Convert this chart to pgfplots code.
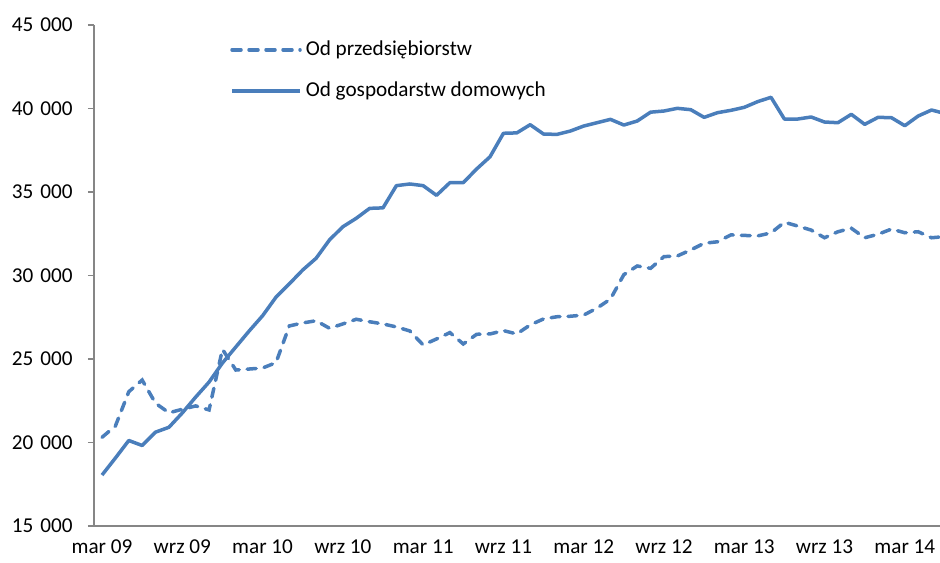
\documentclass[border=0pt]{standalone}
\usepackage{pgfplots}
\pgfplotsset{compat=1.18}
\usepackage{pgfplotstable}
\usepackage{fontspec}
\setmainfont{Carlito}
\definecolor{lineblue}{RGB}{74,126,187}
\definecolor{axisgray}{RGB}{134,134,134}

\pgfplotstableread{
i p h
0 20310 18050
1 20990 19070
2 23040 20120
3 23740 19820
4 22350 20620
5 21780 20910
6 21990 21770
7 22190 22720
8 21950 23620
9 25580 24760
10 24340 25720
11 24400 26680
12 24460 27590
13 24780 28700
14 26980 29500
15 27160 30330
16 27290 31030
17 26840 32130
18 27100 32920
19 27380 33425
20 27230 34020
21 27100 34050
22 26920 35380
23 26680 35480
24 25840 35380
25 26200 34800
26 26580 35560
27 25900 35560
28 26480 36380
29 26500 37110
30 26700 38515
31 26500 38540
32 27040 39030
33 27400 38470
34 27530 38450
35 27560 38650
36 27630 38950
37 28050 39150
38 28590 39350
39 30050 39010
40 30570 39250
41 30430 39780
42 31130 39850
43 31170 40010
44 31530 39930
45 31930 39470
46 32020 39750
47 32430 39890
48 32400 40070
49 32370 40410
50 32550 40670
51 33190 39370
52 32960 39370
53 32720 39490
54 32260 39190
55 32620 39150
56 32830 39650
57 32260 39050
58 32470 39470
59 32780 39450
60 32560 38970
61 32620 39550
62 32260 39910
63 32330 39700
}\datatable

\newcommand{\ts}{\hspace{0.33em}}

\begin{document}
\fontsize{10.6}{13}\selectfont
\begin{tikzpicture}
\begin{axis}[
  name=ax,
  scale only axis,
  width=423pt, height=250.5pt,
  xmin=-0.6, xmax=62.63,
  ymin=15000, ymax=45000,
  scaled y ticks=false,
  axis x line=bottom, axis y line=left,
  axis line style={draw=axisgray, line width=0.75pt, -},
  xtick={0,6,...,60},
  xticklabels={mar 09,wrz 09,mar 10,wrz 10,mar 11,wrz 11,mar 12,wrz 12,mar 13,wrz 13,mar 14},
  x tick style={draw=none},
  ytick={15000,20000,...,45000},
  yticklabels={15\ts000,20\ts000,25\ts000,30\ts000,35\ts000,40\ts000,45\ts000},
  y tick style={draw=axisgray, line width=0.75pt},
  yticklabel style={xshift=-4pt},
  tick align=outside,
  major tick length=3pt,
  legend style={at={(rel axis cs:0.1535,0.985)}, anchor=north west, draw=none, fill=none,
    row sep=7.5pt, font=\fontsize{10.6}{13}\selectfont},
  legend image code/.code={\draw[#1] (0pt,0pt) -- (34pt,0pt);},
  legend cell align=left,
]
\addplot[lineblue, line width=1.75pt, dash pattern=on 4.5pt off 4pt, line cap=round] table[x=i, y=p] {\datatable};
\addlegendentry{Od przedsiębiorstw}
\addplot[lineblue, line width=1.75pt, line join=round] table[x=i, y=h] {\datatable};
\addlegendentry{Od gospodarstw domowych}
\end{axis}
\pgfresetboundingbox
\path[use as bounding box] ([xshift=-47pt,yshift=-18.5pt]ax.south west) rectangle ([yshift=12.5pt]ax.north east);
\end{tikzpicture}
\end{document}
